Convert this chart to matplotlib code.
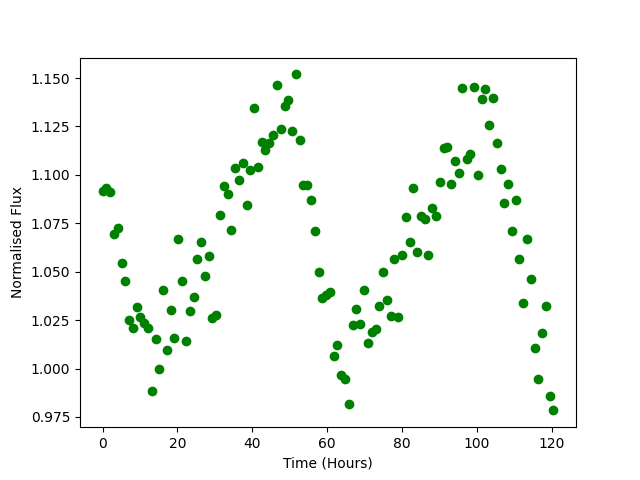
import matplotlib
matplotlib.use("Agg")
import matplotlib.pyplot as plt

time_hours = [0.0, 1.0, 2.0, 3.0, 4.0, 5.1, 6.1, 7.1, 8.1, 9.1,
              10.1, 11.1, 12.1, 13.2, 14.2, 15.2, 16.2, 17.2, 18.2, 19.2,
              20.2, 21.3, 22.3, 23.3, 24.3, 25.3, 26.3, 27.3, 28.3, 29.3,
              30.4, 31.4, 32.4, 33.4, 34.4, 35.4, 36.4, 37.4, 38.5, 39.5,
              40.5, 41.5, 42.5, 43.5, 44.5, 45.5, 46.6, 47.6, 48.6, 49.6,
              50.6, 51.6, 52.6, 53.6, 54.6, 55.7, 56.7, 57.7, 58.7, 59.7,
              60.7, 61.7, 62.7, 63.8, 64.8, 65.8, 66.8, 67.8, 68.8, 69.8,
              70.8, 71.9, 72.9, 73.9, 74.9, 75.9, 76.9, 77.9, 78.9, 79.9,
              81.0, 82.0, 83.0, 84.0, 85.0, 86.0, 87.0, 88.0, 89.1, 90.1,
              91.1, 92.1, 93.1, 94.1, 95.1, 96.1, 97.2, 98.2, 99.2, 100.2,
              101.2, 102.2, 103.2, 104.2, 105.2, 106.3, 107.3, 108.3, 109.3, 110.3,
              111.3, 112.3, 113.3, 114.4, 115.4, 116.4, 117.4, 118.4, 119.4, 120.4]

flux = [1.0917, 1.0934, 1.0910, 1.0695, 1.0724, 1.0543, 1.0452, 1.0249, 1.0209, 1.0319,
        1.0268, 1.0234, 1.0208, 0.9883, 1.0151, 0.9996, 1.0406, 1.0094, 1.0302, 1.0156,
        1.0667, 1.0450, 1.0141, 1.0296, 1.0368, 1.0567, 1.0652, 1.0476, 1.0579, 1.0261,
        1.0275, 1.0791, 1.0941, 1.0900, 1.0714, 1.1034, 1.0973, 1.1060, 1.0843, 1.1023,
        1.1344, 1.1039, 1.1168, 1.1127, 1.1163, 1.1204, 1.1462, 1.1235, 1.1354, 1.1385,
        1.1226, 1.1519, 1.1178, 1.0946, 1.0946, 1.0869, 1.0709, 1.0497, 1.0366, 1.0380,
        1.0395, 1.0063, 1.0120, 0.9967, 0.9945, 0.9817, 1.0223, 1.0306, 1.0228, 1.0404,
        1.0130, 1.0190, 1.0203, 1.0321, 1.0497, 1.0352, 1.0270, 1.0567, 1.0266, 1.0585,
        1.0781, 1.0652, 1.0931, 1.0600, 1.0786, 1.0774, 1.0585, 1.0827, 1.0786, 1.0962,
        1.1137, 1.1142, 1.0951, 1.1072, 1.1008, 1.1447, 1.1080, 1.1106, 1.1454, 1.0998,
        1.1390, 1.1442, 1.1256, 1.1395, 1.1163, 1.1029, 1.0853, 1.0951, 1.0709, 1.0869,
        1.0564, 1.0337, 1.0667, 1.0461, 1.0105, 0.9945, 1.0182, 1.0321, 0.9858, 0.9784]

fig, ax = plt.subplots(figsize=(6.4, 4.8), dpi=100)
ax.plot(time_hours, flux, 'o', color='green')
ax.set_xlabel("Time (Hours)")
ax.set_ylabel("Normalised Flux")
fig.savefig("out.png")
